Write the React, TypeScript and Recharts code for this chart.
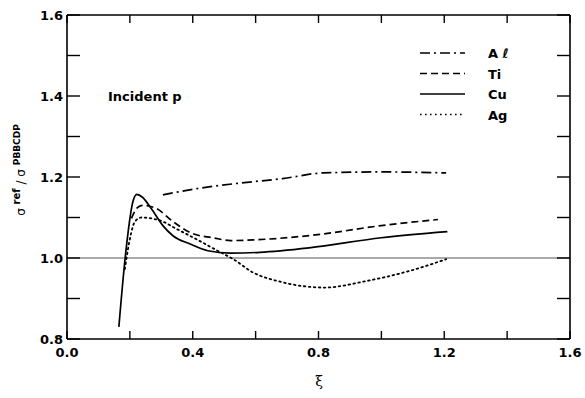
import React from "react";
import {
  LineChart,
  Line,
  XAxis,
  YAxis,
  ReferenceLine,
  Legend,
} from "recharts";

// ---- data ----
const alX = [0.305, 0.42, 0.55, 0.686, 0.813, 1.0, 1.206];
const alY = [1.156, 1.172, 1.185, 1.196, 1.21, 1.2125, 1.21];

const tiX = [0.205, 0.225, 0.241, 0.285, 0.337, 0.4, 0.464, 0.52, 0.6, 0.79, 1.0, 1.18];
const tiY = [1.098, 1.125, 1.13, 1.122, 1.09, 1.06, 1.05, 1.043, 1.045, 1.057, 1.08, 1.095];

const cuX = [0.165, 0.185, 0.21, 0.222, 0.24, 0.268, 0.305, 0.337, 0.39, 0.448, 0.52, 0.613, 0.77, 1.0, 1.21];
const cuY = [0.83, 1.0, 1.14, 1.157, 1.15, 1.122, 1.08, 1.055, 1.035, 1.018, 1.012, 1.014, 1.025, 1.05, 1.065];

const agX = [0.184, 0.2, 0.216, 0.237, 0.273, 0.295, 0.348, 0.41, 0.486, 0.527, 0.59, 0.686, 0.819, 0.952, 1.089, 1.206];
const agY = [0.9725, 1.047, 1.09, 1.1, 1.097, 1.093, 1.072, 1.047, 1.015, 0.998, 0.965, 0.94, 0.927, 0.943, 0.968, 0.997];

const seriesNames = ["A ℓ", "Ti", "Cu", "Ag"];
const seriesDash = ["10 4 2 4", "7 4", "", "1.6 3.4"];

const xTicks = [0, 0.2, 0.4, 0.6, 0.8, 1.0, 1.2, 1.4, 1.6];
const xLabelTicks = [0, 0.4, 0.8, 1.2, 1.6];
const yTicks = [0.8, 0.9, 1.0, 1.1, 1.2, 1.3, 1.4, 1.5, 1.6];
const yLabelTicks = [0.8, 1.0, 1.2, 1.4, 1.6];

const toRows = (xs: number[], ys: number[]) => xs.map((x, i) => ({ x, y: ys[i] }));
const alData = toRows(alX, alY);
const tiData = toRows(tiX, tiY);
const cuData = toRows(cuX, cuY);
const agData = toRows(agX, agY);
const seriesData = [alData, tiData, cuData, agData];

const FONT = "'DejaVu Sans', sans-serif";
const isLabel = (list: number[], v: number) => list.some((t) => Math.abs(t - v) < 1e-6);

const LeftTick = (p: any) => {
  const { x, y, payload } = p;
  const v = payload.value as number;
  return (
    <g>
      <line x1={x} x2={x + 13} y1={y} y2={y} stroke="#000" strokeWidth={1.4} />
      {isLabel(yLabelTicks, v) && (
        <text x={x - 4} y={y} dy={5} textAnchor="end" fontFamily={FONT} fontWeight="bold" fontSize={13} fill="#000">
          {v.toFixed(1)}
        </text>
      )}
    </g>
  );
};

const RightTick = (p: any) => {
  const { x, y } = p;
  return <line x1={x} x2={x - 13} y1={y} y2={y} stroke="#000" strokeWidth={1.4} />;
};

const BottomTick = (p: any) => {
  const { x, y, payload } = p;
  const v = payload.value as number;
  return (
    <g>
      <line x1={x} x2={x} y1={y} y2={y - 8} stroke="#000" strokeWidth={1.4} />
      {isLabel(xLabelTicks, v) && (
        <text x={x} y={y + 18} textAnchor="middle" fontFamily={FONT} fontWeight="bold" fontSize={13} fill="#000">
          {v.toFixed(1)}
        </text>
      )}
    </g>
  );
};

const TopTick = (p: any) => {
  const { x, y } = p;
  return <line x1={x} x2={x} y1={y} y2={y + 8} stroke="#000" strokeWidth={1.4} />;
};

const LegendBox = () => (
  <svg width={150} height={90}>
    {seriesNames.map((n, i) => {
      const yy = 13 + i * 20.5;
      return (
        <g key={n}>
          <line x1={5} x2={50} y1={yy} y2={yy} stroke="#000" strokeWidth={1.6} strokeDasharray={seriesDash[i] || undefined} />
          <text x={73} y={yy + 5} fontFamily={FONT} fontWeight="bold" fontSize={13} fill="#000">
            {n}
          </text>
        </g>
      );
    })}
  </svg>
);

export default function App() {
  return (
    <div style={{ position: "absolute", left: 0, top: 0, width: 585, height: 398, background: "#fff" }}>
      <LineChart width={585} height={398} margin={{ top: 5, right: 5, bottom: 29, left: 7 }}>
        <XAxis
          xAxisId="b"
          type="number"
          dataKey="x"
          domain={[0, 1.6]}
          ticks={xTicks}
          interval={0}
          height={30}
          tickSize={0}
          tickMargin={0}
          tickLine={false}
          axisLine={{ stroke: "#000", strokeWidth: 1.6 }}
          tick={BottomTick}
          allowDataOverflow
        />
        <XAxis
          xAxisId="t"
          orientation="top"
          type="number"
          dataKey="x"
          domain={[0, 1.6]}
          ticks={xTicks}
          interval={0}
          height={10}
          tickSize={0}
          tickMargin={0}
          tickLine={false}
          axisLine={{ stroke: "#000", strokeWidth: 1.6 }}
          tick={TopTick}
          allowDataOverflow
        />
        <YAxis
          yAxisId="l"
          type="number"
          domain={[0.8, 1.6]}
          ticks={yTicks}
          interval={0}
          width={60}
          tickSize={0}
          tickMargin={0}
          tickLine={false}
          axisLine={{ stroke: "#000", strokeWidth: 1.6 }}
          tick={LeftTick}
          allowDataOverflow
        />
        <YAxis
          yAxisId="r"
          orientation="right"
          type="number"
          domain={[0.8, 1.6]}
          ticks={yTicks}
          interval={0}
          width={10}
          tickSize={0}
          tickMargin={0}
          tickLine={false}
          axisLine={{ stroke: "#000", strokeWidth: 1.6 }}
          tick={RightTick}
          allowDataOverflow
        />
        <ReferenceLine xAxisId="b" yAxisId="l" y={1.0} stroke="#555" strokeWidth={1} />
        {seriesData.map((d, i) => (
          <Line
            key={seriesNames[i]}
            xAxisId="b"
            yAxisId="l"
            data={d}
            dataKey="y"
            type="monotone"
            stroke="#000"
            strokeWidth={i === 3 ? 1.8 : 1.7}
            strokeDasharray={seriesDash[i] || undefined}
            strokeLinecap={i === 3 ? "round" : "butt"}
            dot={false}
            activeDot={false}
            isAnimationActive={false}
          />
        ))}
        <Legend
          layout="horizontal"
          verticalAlign="middle"
          align="center"
          content={LegendBox}
          wrapperStyle={{ position: "absolute", left: 415, top: 40, width: 150, height: 90 }}
        />
      </LineChart>
      <div
        style={{
          position: "absolute",
          left: 108,
          top: 89,
          fontFamily: FONT,
          fontWeight: "bold",
          fontSize: 13,
          whiteSpace: "nowrap",
        }}
      >
        Incident p
      </div>
      <div
        style={{
          position: "absolute",
          left: 19,
          top: 170,
          transform: "translate(-50%, -50%) rotate(-90deg)",
          fontFamily: FONT,
          fontSize: 12,
          whiteSpace: "nowrap",
          lineHeight: "14px",
        }}
      >
        σ <sup style={{ fontSize: 10, fontWeight: "bold" }}>ref</sup> / σ{" "}
        <sup style={{ fontSize: 9, fontWeight: "bold" }}>PBBCDP</sup>
      </div>
      <div
        style={{
          position: "absolute",
          left: 319,
          top: 381,
          transform: "translate(-50%, -50%)",
          fontFamily: "'DejaVu Serif', serif",
          fontSize: 14,
        }}
      >
        ξ
      </div>
    </div>
  );
}
